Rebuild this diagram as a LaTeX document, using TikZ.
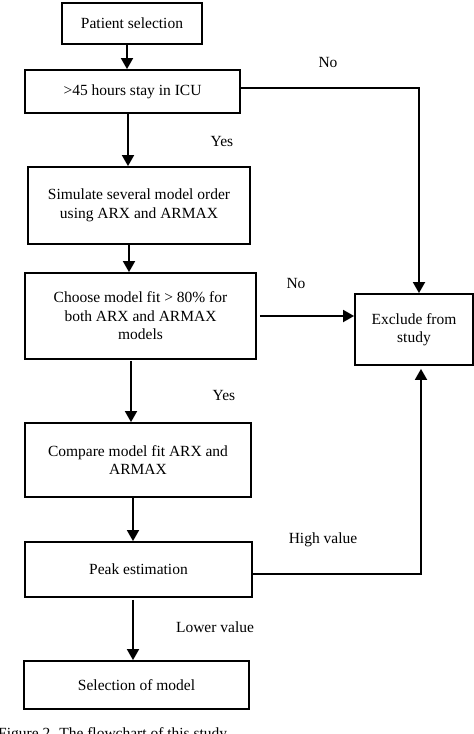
\documentclass[tikz,border=0pt]{standalone}
\usepackage{fontspec}
\setmainfont{Liberation Serif}
\usetikzlibrary{arrows.meta}
\begin{document}
\begin{tikzpicture}[x=1pt,y=1pt,yscale=-1,
  box/.style={draw,line width=1.8,inner sep=0pt,align=center,font=\fontsize{15.5}{18.5}\selectfont},
  arr/.style={line width=1.8,-{Triangle[length=11pt,width=12pt]}},
  lbl/.style={inner sep=0pt,font=\fontsize{15.5}{18.5}\selectfont}]
\useasboundingbox (0,0) rectangle (474,734);

% Boxes
\node[box,minimum width=140,minimum height=41] (pat) at (132,23.5) {Patient selection};
\node[box,minimum width=215,minimum height=43] (icu) at (132.5,91.5) {>45 hours stay in ICU};
\node[box,minimum width=222,minimum height=77] (sim) at (139,205.5) {Simulate several model order\\using ARX and ARMAX};
\node[box,minimum width=231,minimum height=86] (cho) at (140.5,316) {Choose model fit > 80\% for\\both ARX and ARMAX\\models};
\node[box,minimum width=118,minimum height=71] (exc) at (414,329.5) {Exclude from\\study};
\node[box,minimum width=226,minimum height=74] (cmp) at (138,460) {Compare model fit ARX and\\ARMAX};
\node[box,minimum width=227,minimum height=55] (peak) at (138.5,569.5) {Peak estimation};
\node[box,minimum width=225,minimum height=48] (sel) at (136.5,685) {Selection of model};

% Labels
\node[lbl] (no1) at (328,62) {No};
\node[lbl] (yes1) at (222,141) {Yes};
\node[lbl] (no2) at (296,283) {No};
\node[lbl] (yes2) at (224,395) {Yes};
\node[lbl] (high) at (323,540) {High value};
\node[lbl] (low) at (215,627) {Lower value};
\node[lbl,anchor=north west] (cap) at (-2,727) {Figure 2. The flowchart of this study};

% Connectors
\draw[arr] ([xshift=-5]pat.south) -- ([xshift=-5]pat.south |- icu.north);
\draw[arr] ([xshift=-4.5]icu.south) -- ([xshift=-4.5]icu.south |- sim.north);
\draw[arr] ([xshift=-10]sim.south) -- ([xshift=-10]sim.south |- cho.north);
\draw[arr] ([xshift=-9.5,yshift=1]cho.south) -- ([xshift=-9.5]cho.south |- cmp.north);
\draw[arr] ([xshift=-5]cmp.south) -- ([xshift=-5]cmp.south |- peak.north);
\draw[arr] ([xshift=-5.5,yshift=2]peak.south) -- ([xshift=-5.5]peak.south |- sel.north);
\draw[arr] ([xshift=3]cho.east) -- (cho.east -| exc.west);
\draw[arr] ([yshift=-3.5]icu.east) -| ([xshift=5]exc.north);
\draw[arr,shorten >=3] ([yshift=4.5]peak.east) -| ([xshift=7]exc.south);
\end{tikzpicture}
\end{document}
